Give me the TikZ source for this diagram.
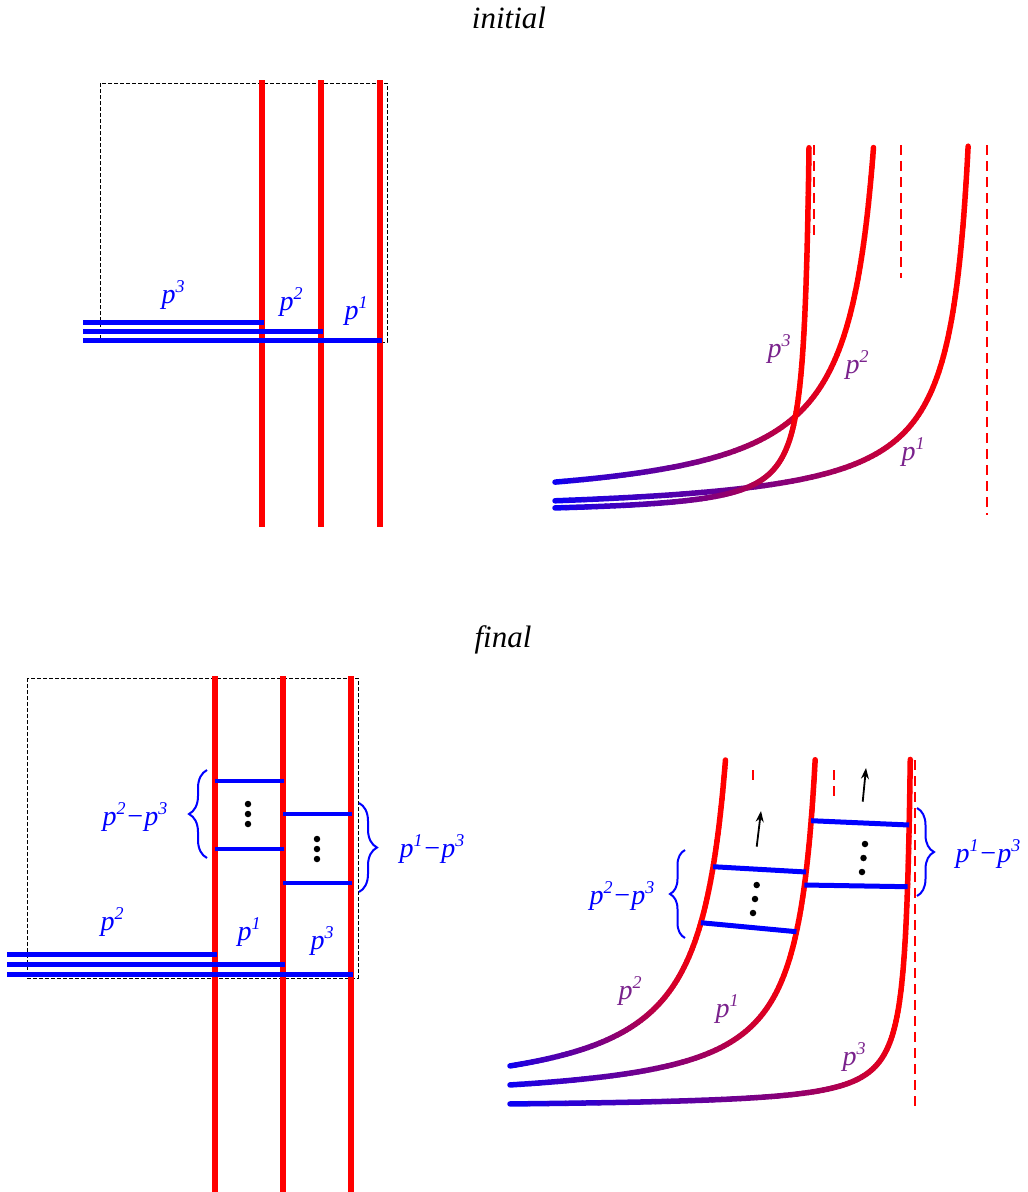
\documentclass[tikz,border=0pt]{standalone}
\usepackage{fontspec}
\setmainfont{Liberation Serif}
\usetikzlibrary{decorations.pathreplacing,arrows.meta}
\definecolor{lblpurple}{RGB}{122,34,140}
\newcommand\pl[1]{p\raisebox{0.38em}{\fontsize{18}{18}\selectfont #1}}
\newcommand\hypcurve[5]{%
  \foreach \i in {0,...,89}{%
    \pgfmathsetmacro\sa{\i/90}%
    \pgfmathsetmacro\sb{(\i+1)/90}%
    \pgfmathsetmacro\ua{#4*exp(\sa*ln(#5/#4))}%
    \pgfmathsetmacro\ub{#4*exp(\sb*ln(#5/#4))}%
    \pgfmathtruncatemacro\cc{100*(min(1,((\sa+\sb)/2)/0.7))^0.6}%
    \draw[curve, draw=red!\cc!blue] ({#1-\ua},{#2-#3/\ua}) -- ({#1-\ub},{#2-#3/\ub});
  }}
\tikzset{
  redline/.style={draw=red, line width=5.5pt},
  blueline/.style={draw=blue, line width=5pt},
  curve/.style={line width=5.5pt, line cap=round},
  box/.style={draw=black, line width=0.9pt, dash pattern=on 4pt off 2pt},
  asym/.style={draw=red, line width=1.6pt, dash pattern=on 10pt off 6pt},
  lbl/.style={text=blue, font=\fontsize{28}{32}\selectfont\itshape, inner sep=0pt},
  plbl/.style={text=lblpurple, font=\fontsize{28}{32}\selectfont\itshape, inner sep=0pt},
  ttl/.style={font=\fontsize{31}{36}\selectfont\itshape, inner sep=0pt},
  brc/.style={draw=blue, line width=2pt, decorate, decoration={brace, amplitude=18pt}},
  dot/.style={circle, fill=black, inner sep=0pt, minimum size=6.5pt},
  upar/.style={draw=black, line width=1.8pt, -{Stealth[length=11pt,width=8pt]}}
}
\begin{document}
\begin{tikzpicture}[x=1pt,y=-1pt]
\useasboundingbox (0,0) rectangle (1028,1192);

% titles
\node[ttl] (tinit) at (509,18) {initial};
\node[ttl] (tfinal) at (503,640) {final};

% ===== top-left =====
\draw[box] (100,83) rectangle (387,342);
\coordinate (a1t) at (262,80); \coordinate (a1b) at (262,527);
\coordinate (a2t) at (321,80); \coordinate (a2b) at (321,527);
\coordinate (a3t) at (380,80); \coordinate (a3b) at (380,527);
\draw[redline] (a1t) -- (a1b);
\draw[redline] (a2t) -- (a2b);
\draw[redline] (a3t) -- (a3b);
\coordinate (h1l) at (83,322); \coordinate (h1r) at (264,322);
\coordinate (h2l) at (83,331); \coordinate (h2r) at (323,331);
\coordinate (h3l) at (83,340); \coordinate (h3r) at (382,340);
\draw[blueline] (h1l) -- (h1r);
\draw[blueline] (h2l) -- (h2r);
\draw[blueline] (h3l) -- (h3r);
\node[lbl] (tl3) at (173,295) {\pl{3}};
\node[lbl] (tl2) at (291,302) {\pl{2}};
\node[lbl] (tl1) at (356,311) {\pl{1}};

% ===== top-right =====
\coordinate (d1t) at (814,145); \coordinate (d1b) at (814,235);
\coordinate (d2t) at (901,145); \coordinate (d2b) at (901,278);
\coordinate (d3t) at (987,145); \coordinate (d3b) at (987,515);
\draw[asym] (d1t) -- (d1b);
\draw[asym] (d2t) -- (d2b);
\draw[asym] (d3t) -- (d3b);
\hypcurve{901}{511}{10000}{346}{27.3}
\hypcurve{987}{517}{7000}{432}{18.82}
\hypcurve{814}{515}{1836}{259}{4.96}
\node[plbl] (tr3) at (779,349) {\pl{3}};
\node[plbl] (tr2) at (857,365) {\pl{2}};
\node[plbl] (tr1) at (913,452) {\pl{1}};

% ===== bottom-left =====
\draw[box] (27,678) rectangle (358,978);
\coordinate (b1t) at (215,676); \coordinate (b1b) at (215,1192);
\coordinate (b2t) at (283,676); \coordinate (b2b) at (283,1192);
\coordinate (b3t) at (351,676); \coordinate (b3b) at (351,1192);
\draw[redline] (b1t) -- (b1b);
\draw[redline] (b2t) -- (b2b);
\draw[redline] (b3t) -- (b3b);
\coordinate (g1l) at (7,954); \coordinate (g1r) at (217,954);
\coordinate (g2l) at (7,964); \coordinate (g2r) at (285,964);
\coordinate (g3l) at (7,974); \coordinate (g3r) at (353,974);
\draw[blueline] (g1l) -- (g1r);
\draw[blueline] (g2l) -- (g2r);
\draw[blueline] (g3l) -- (g3r);
% rungs
\coordinate (q1l) at (215,781); \coordinate (q1r) at (284,781);
\coordinate (q2l) at (215,849); \coordinate (q2r) at (284,849);
\coordinate (q3l) at (283,814); \coordinate (q3r) at (352,814);
\coordinate (q4l) at (283,883); \coordinate (q4r) at (352,883);
\draw[blueline, line width=3.8pt] (q1l) -- (q1r);
\draw[blueline, line width=3.8pt] (q2l) -- (q2r);
\draw[blueline, line width=3.8pt] (q3l) -- (q3r);
\draw[blueline, line width=3.8pt] (q4l) -- (q4r);
\node[dot] (bd1) at (248,804) {};
\node[dot] (bd2) at (248,814) {};
\node[dot] (bd3) at (248,824) {};
\node[dot] (bd4) at (317,839) {};
\node[dot] (bd5) at (317,849) {};
\node[dot] (bd6) at (317,859) {};
\coordinate (br1a) at (207,858); \coordinate (br1b) at (207,770);
\draw[brc] (br1a) -- (br1b);
\coordinate (br2a) at (359,803); \coordinate (br2b) at (359,892);
\draw[brc] (br2a) -- (br2b);
\node[lbl] (bl23) at (135,817) {\pl{2}−\pl{3}};
\node[lbl] (bl13) at (432,849) {\pl{1}−\pl{3}};
\node[lbl] (bl2) at (112,922) {\pl{2}};
\node[lbl] (bl1) at (249,932) {\pl{1}};
\node[lbl] (bl3) at (322,941) {\pl{3}};

% ===== bottom-right =====
\coordinate (e1t) at (753,770); \coordinate (e1b) at (753,783);
\coordinate (e2t) at (834,770); \coordinate (e2b) at (834,802);
\coordinate (e3t) at (915,760); \coordinate (e3b) at (915,1108);
\draw[asym] (e1t) -- (e1b);
\draw[asym] (e2t) -- (e2b);
\draw[asym] (e3t) -- (e3b);
\hypcurve{753}{1105}{9500}{243}{27.54}
\hypcurve{834}{1105}{6500}{324}{18.84}
\hypcurve{915}{1108}{1650}{405}{4.74}
% rungs
\coordinate (r1a) at ({753-9500/(1105-866.7)},866.7);
\coordinate (r1b) at ({834-6500/(1105-872)},872);
\coordinate (r2a) at ({753-9500/(1105-922.7)},922.7);
\coordinate (r2b) at ({834-6500/(1105-931.7)},931.7);
\coordinate (r3a) at ({834-6500/(1105-820.7)},820.7);
\coordinate (r3b) at ({915-1650/(1108-825)},825);
\coordinate (r4a) at ({834-6500/(1105-885)},885);
\coordinate (r4b) at ({915-1650/(1108-886.7)},886.7);
\draw[blueline] (r1a) -- (r1b);
\draw[blueline] (r2a) -- (r2b);
\draw[blueline] (r3a) -- (r3b);
\draw[blueline] (r4a) -- (r4b);
\node[dot] (rd1) at (756.7,885) {};
\node[dot] (rd2) at (755,899) {};
\node[dot] (rd3) at (753,913) {};
\node[dot] (rd4) at (865,844) {};
\node[dot] (rd5) at (863.5,858) {};
\node[dot] (rd6) at (862,872) {};
\coordinate (ar1a) at (756.7,846.7); \coordinate (ar1b) at (761,811);
\coordinate (ar2a) at (862.7,801.7); \coordinate (ar2b) at (866,768);
\draw[upar] (ar1a) -- (ar1b);
\draw[upar] (ar2a) -- (ar2b);
\coordinate (bs1a) at (685,938); \coordinate (bs1b) at (685,850);
\draw[brc, decoration={brace, amplitude=15pt}] (bs1a) -- (bs1b);
\coordinate (bs2a) at (917,808); \coordinate (bs2b) at (917,896);
\draw[brc, decoration={brace, amplitude=17pt}] (bs2a) -- (bs2b);
\node[lbl] (rl23) at (622,896) {\pl{2}−\pl{3}};
\node[lbl] (rl13) at (988,854) {\pl{1}−\pl{3}};
\node[plbl] (rl2) at (630,991) {\pl{2}};
\node[plbl] (rl1) at (727,1009) {\pl{1}};
\node[plbl] (rl3) at (854,1057) {\pl{3}};
\end{tikzpicture}
\end{document}
